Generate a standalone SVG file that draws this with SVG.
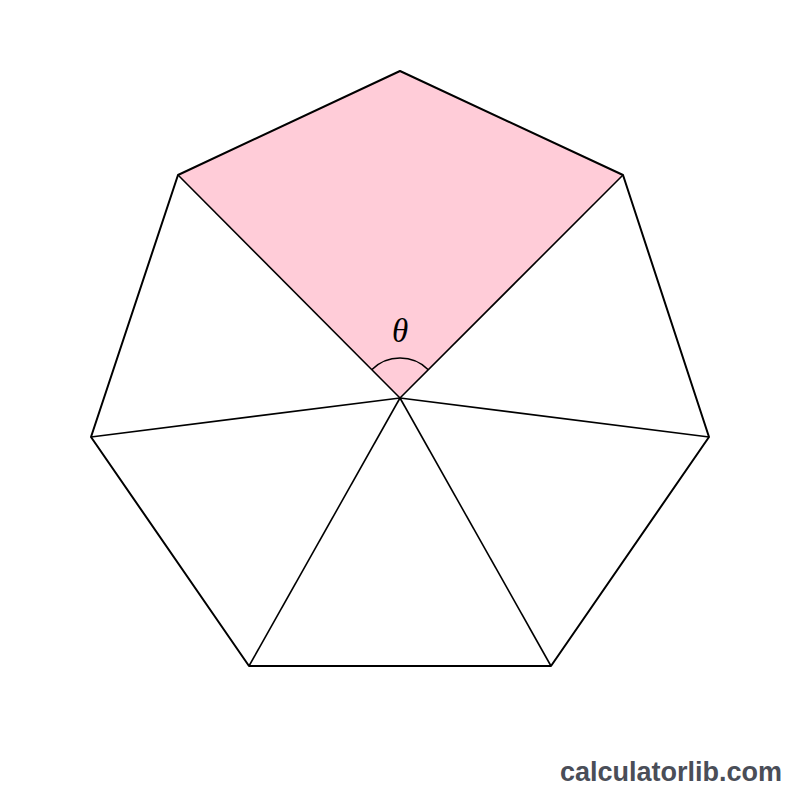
<svg xmlns="http://www.w3.org/2000/svg" width="800" height="800" viewBox="0 0 800 800">
<style>
.edge{stroke:#000;stroke-width:2;fill:none;stroke-linejoin:round}
.spoke{stroke:#000;stroke-width:1.6;fill:none}
</style>
<rect width="800" height="800" fill="#fff"/>
<g id="sector">
<polygon points="400,398 178,175 400,71 623,175" fill="#ffccd8"/>
</g>
<g id="connectors">
<line class="spoke" x1="400" y1="398" x2="178" y2="175"/>
<line class="spoke" x1="400" y1="398" x2="623" y2="175"/>
<line class="spoke" x1="400" y1="398" x2="709" y2="437"/>
<line class="spoke" x1="400" y1="398" x2="551" y2="666"/>
<line class="spoke" x1="400" y1="398" x2="249" y2="666"/>
<line class="spoke" x1="400" y1="398" x2="91" y2="437"/>
</g>
<g id="heptagon">
<polygon class="edge" points="400,71 623,175 709,437 551,666 249,666 91,437 178,175"/>
</g>
<g id="angle">
<path class="spoke" d="M371.7,369.7 A40,40 0 0 1 428.3,369.7"/>
<text x="400" y="342" font-family="Liberation Serif, serif" font-style="italic" font-size="33" text-anchor="middle">θ</text>
</g>
<text x="671" y="781" font-family="Liberation Sans, Arial, sans-serif" font-weight="bold" font-size="27" fill="#4a4e58" text-anchor="middle">calculatorlib.com</text>
</svg>
